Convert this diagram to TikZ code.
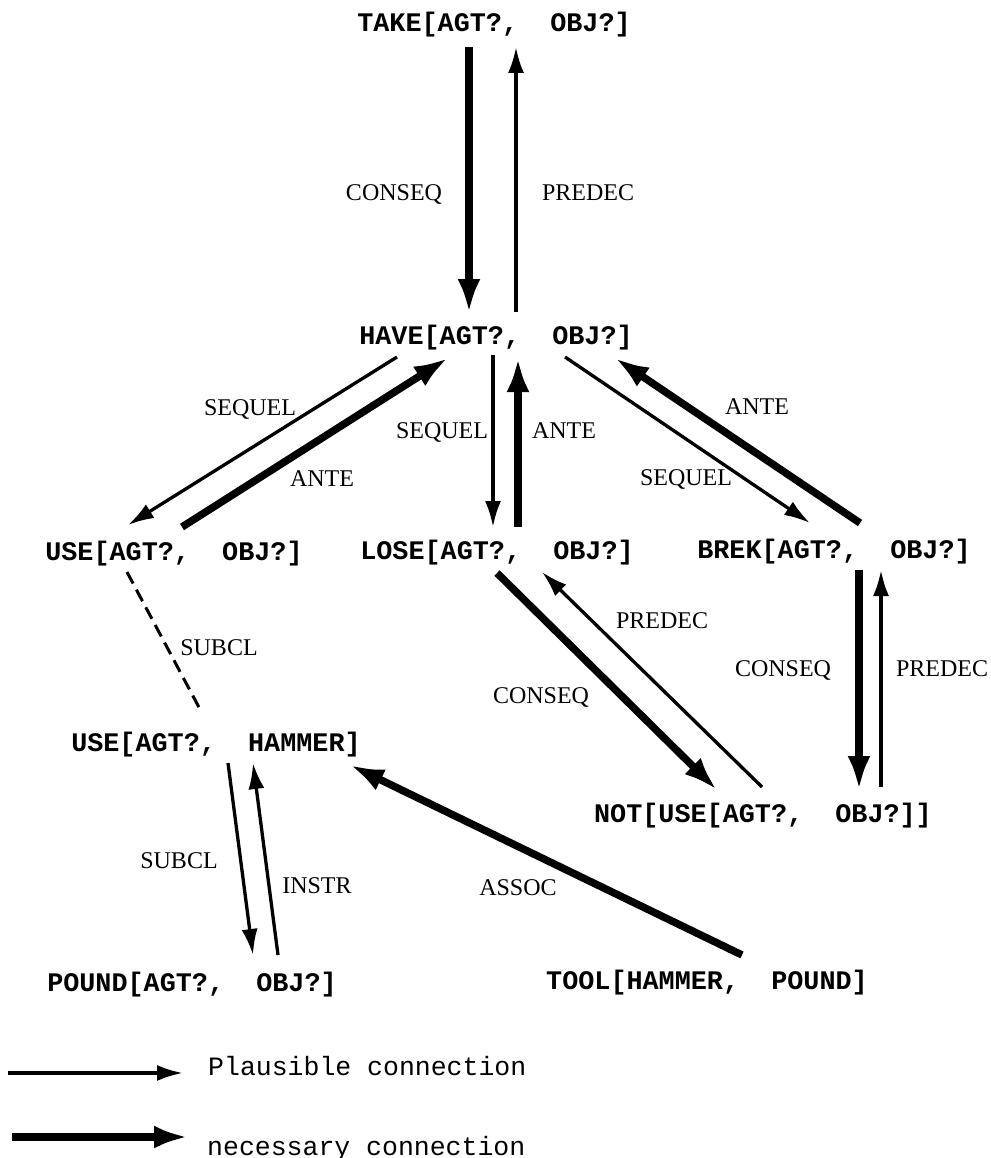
\documentclass[tikz,border=0pt]{standalone}
\usepackage{fontspec}
\usetikzlibrary{arrows.meta}
\newfontfamily\conceptfont{Liberation Mono}
\newfontfamily\relfont{Liberation Serif}
\frenchspacing
\begin{document}
\begin{tikzpicture}[x=1pt,y=-1pt,
  concept/.style={font={\conceptfont\bfseries\fontsize{26.8pt}{30pt}\selectfont},
    inner sep=0pt, text height=18pt, text depth=0pt},
  rel/.style={font={\relfont\fontsize{24pt}{28pt}\selectfont},
    inner sep=0pt, text height=16pt, text depth=0pt},
  legendtext/.style={font={\conceptfont\fontsize{26.5pt}{30pt}\selectfont},
    inner sep=0pt, anchor=base west},
  plausible/.style={line width=3.3pt, -{Latex[length=26pt,width=16pt]}},
  necessary/.style={line width=7.5pt, -{Latex[length=34pt,width=23pt]}},
  subclass/.style={line width=3pt, dash pattern=on 13pt off 7pt}
]
\useasboundingbox (0,0) rectangle (990,1158);

% concepts
\node[concept] (take)  at (494,23)  {TAKE[AGT?,\ \ OBJ?]};
\node[concept] (have)  at (496,335) {HAVE[AGT?,\ \ OBJ?]};
\node[concept] (use)   at (174,551) {USE[AGT?,\ \ OBJ?]};
\node[concept] (lose)  at (497,550) {LOSE[AGT?,\ \ OBJ?]};
\node[concept] (brek)  at (834,549) {BREK[AGT?,\ \ OBJ?]};
\node[concept] (useh)  at (216,742) {USE[AGT?,\ \ HAMMER]};
\node[concept] (notu)  at (763,813) {NOT[USE[AGT?,\ \ OBJ?]]};
\node[concept] (pound) at (192,982) {POUND[AGT?,\ \ OBJ?]};
\node[concept] (tool)  at (707,980) {TOOL[HAMMER,\ \ POUND]};

% TAKE <-> HAVE
\draw[necessary] ([shift={(-25,24)}]take.center) -- ([shift={(-27,-22)}]have.center);
\draw[plausible] ([shift={(20,-23)}]have.center) -- ([shift={(22,24)}]take.center);

% HAVE <-> USE
\draw[plausible] ([shift={(-99,22)}]have.center) -- ([shift={(-46,-26)}]use.center);
\draw[necessary] ([shift={(8,-24)}]use.center) -- ([shift={(-48,23)}]have.center);

% HAVE <-> LOSE
\draw[plausible] ([shift={(-3,20)}]have.center) -- ([shift={(-4,-23)}]lose.center);
\draw[necessary] ([shift={(21,-23)}]lose.center) -- ([shift={(22,23)}]have.center);

% HAVE <-> BREK
\draw[plausible] ([shift={(69,22)}]have.center) -- ([shift={(-24,-26)}]brek.center);
\draw[necessary] ([shift={(26,-26)}]brek.center) -- ([shift={(119,23)}]have.center);

% USE - - USE[AGT?, HAMMER]
\draw[subclass] ([shift={(-47,21)}]use.center) -- ([shift={(-14,-29)}]useh.center);

% USE[AGT?, HAMMER] <-> POUND
\draw[plausible] ([shift={(12,21)}]useh.center) -- ([shift={(61,-27)}]pound.center);
\draw[plausible] ([shift={(86,-27)}]pound.center) -- ([shift={(37,21)}]useh.center);

% TOOL -> USE[AGT?, HAMMER]
\draw[necessary] ([shift={(35,-25)}]tool.center) -- ([shift={(134,23)}]useh.center);

% LOSE <-> NOT
\draw[necessary] ([shift={(0,23)}]lose.center) -- ([shift={(-46,-23)}]notu.center);
\draw[plausible] ([shift={(-1,-26)}]notu.center) -- ([shift={(45,22)}]lose.center);

% BREK <-> NOT
\draw[necessary] ([shift={(25,21)}]brek.center) -- ([shift={(96,-23)}]notu.center);
\draw[plausible] ([shift={(118,-26)}]notu.center) -- ([shift={(47,21)}]brek.center);

% relation labels
\node[rel] (l1)  at (394,193) {CONSEQ};
\node[rel] (l2)  at (588,193) {PREDEC};
\node[rel] (l3)  at (250,407) {SEQUEL};
\node[rel] (l4)  at (322,478) {ANTE};
\node[rel] (l5)  at (442,430) {SEQUEL};
\node[rel] (l6)  at (564,430) {ANTE};
\node[rel] (l7)  at (757,406) {ANTE};
\node[rel] (l8)  at (686,477) {SEQUEL};
\node[rel] (l9)  at (219,647) {SUBCL};
\node[rel] (l10) at (662,620) {PREDEC};
\node[rel] (l11) at (541,695) {CONSEQ};
\node[rel] (l12) at (783,668) {CONSEQ};
\node[rel] (l13) at (942,668) {PREDEC};
\node[rel] (l14) at (179,860) {SUBCL};
\node[rel] (l15) at (317,885) {INSTR};
\node[rel] (l16) at (518,887) {ASSOC};

% legend
\coordinate (leg1s) at (8,1073);
\coordinate (leg1e) at (183,1073);
\coordinate (leg2s) at (12,1137);
\coordinate (leg2e) at (188,1137);
\draw[plausible] (leg1s) -- (leg1e);
\draw[necessary] (leg2s) -- (leg2e);
\node[legendtext] (leg1t) at (208,1075) {Plausible connection};
\node[legendtext] (leg2t) at (207,1155) {necessary connection};
\end{tikzpicture}
\end{document}
